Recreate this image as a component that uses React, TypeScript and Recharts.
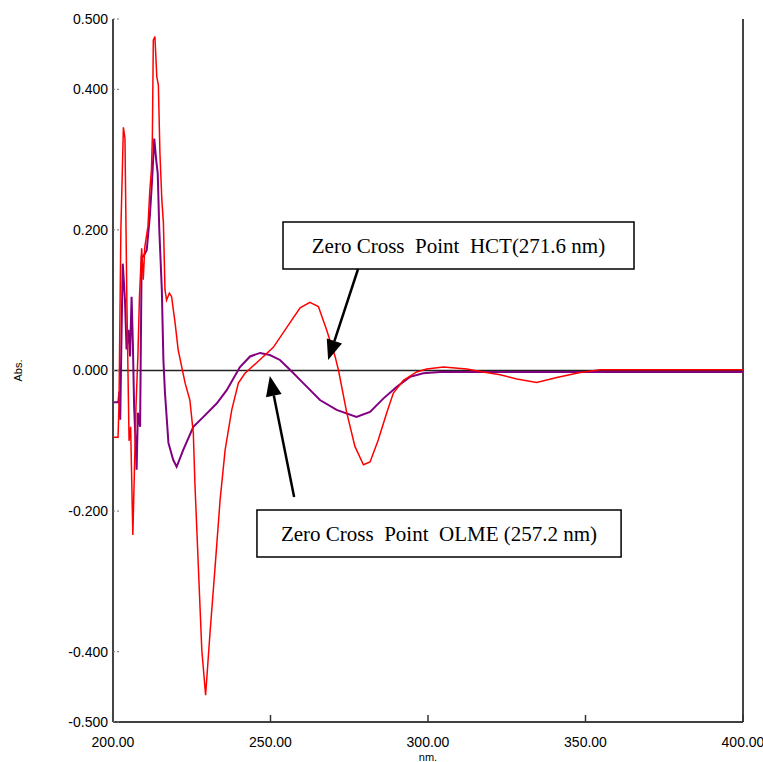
import { LineChart, Line, XAxis, YAxis, ReferenceLine, ReferenceArea } from 'recharts';

// HCT derivative spectrum (red)
const hctWavelength = [
  200, 201.6, 201.9, 202.5, 203.3, 203.8, 204.4, 205.1, 205.6, 206.3, 207.3, 207.9, 208.4, 209.1,
  209.6, 210.1, 211.1, 211.7, 212.2, 212.5, 212.8, 213.3, 213.9, 214.4, 214.9, 215.5, 216.0, 216.5,
  217.0, 217.9, 218.6, 219.7, 220.7, 222.9, 224.4, 225.5, 226.0, 227.1, 228.2, 229.4, 230.8, 232.4,
  234.0, 235.6, 237.7, 239.8, 241.9, 245.6, 250.9, 256.2, 259.4, 262.5, 265.2, 267.8, 270.5, 271.6,
  274.2, 276.8, 279.5, 281.6, 284.2, 286.9, 289.0, 292.2, 296.4, 299.6, 304.9, 312.3, 317.5, 322.9,
  328.2, 334.5, 340.9, 348.3, 354.6, 400,
];
const hctAbs = [
  -0.095, -0.095, -0.05, 0.2, 0.346, 0.33, 0.1, -0.1, -0.08, -0.234, -0.05, 0.02, 0.105, 0.174,
  0.129, 0.176, 0.205, 0.257, 0.285, 0.333, 0.47, 0.475, 0.418, 0.406, 0.309, 0.243, 0.21, 0.115,
  0.1, 0.11, 0.105, 0.068, 0.029, -0.018, -0.042, -0.089, -0.16, -0.28, -0.398, -0.462, -0.373, -0.28,
  -0.184, -0.113, -0.056, -0.018, -0.004, 0.011, 0.033, 0.068, 0.089, 0.097, 0.091, 0.058, 0.02, 0,
  -0.06, -0.108, -0.134, -0.13, -0.099, -0.06, -0.032, -0.014, -0.002, 0.002, 0.005, 0.002, -0.002, -0.006,
  -0.012, -0.017, -0.01, -0.003, 0.001, 0.001,
];

// OLME derivative spectrum (purple)
const olmeWavelength = [
  200, 201.7, 202.0, 202.3, 202.7, 203.1, 203.8, 204.3, 204.9, 205.4, 205.9, 206.3, 206.7, 207.5,
  207.9, 208.6, 209.1, 209.6, 210.7, 211.7, 212.4, 213.1, 213.7, 214.2, 214.7, 215.5, 216.0, 216.5,
  217.6, 219.1, 220.2, 222.3, 225.5, 228.7, 232.9, 236.1, 240.3, 243.5, 246.7, 249.8, 253.0, 256.2,
  260.4, 265.7, 271.0, 277.3, 281.6, 285.8, 290.1, 294.3, 298.5, 303.8, 400,
];
const olmeAbs = [
  -0.045, -0.045, -0.03, -0.07, 0.05, 0.152, 0.1, 0.03, 0.058, 0.02, 0.105, 0.04, -0.05, -0.141,
  -0.06, -0.08, 0.162, 0.162, 0.171, 0.22, 0.27, 0.33, 0.3, 0.28, 0.2, 0.115, 0.015, -0.032,
  -0.103, -0.127, -0.137, -0.113, -0.08, -0.066, -0.047, -0.028, 0.005, 0.02, 0.025, 0.022, 0.015, 0.001,
  -0.018, -0.042, -0.056, -0.066, -0.059, -0.04, -0.023, -0.009, -0.004, -0.002, -0.002,
];

const xTicks = [200, 250, 300, 350, 400];
const yTicks = [-0.5, -0.4, -0.2, 0, 0.2, 0.4, 0.5];

const hctNote = 'Zero Cross\u00A0 Point\u00A0 HCT(271.6 nm)';
const olmeNote = 'Zero Cross\u00A0 Point\u00A0 OLME (257.2 nm)';

const hctData = hctWavelength.map((x, i) => ({ x, v: hctAbs[i] }));
const olmeData = olmeWavelength.map((x, i) => ({ x, v: olmeAbs[i] }));

const sans = '"Liberation Sans", Arial, sans-serif';
const serif = '"Liberation Serif", "Times New Roman", serif';

function Arrow(props: any) {
  const { x1, y1, x2, y2 } = props;
  const dx = x2 - x1;
  const dy = y2 - y1;
  const len = Math.sqrt(dx * dx + dy * dy);
  const ux = dx / len;
  const uy = dy / len;
  const headLen = 20;
  const headW = 8;
  const bx = x2 - ux * headLen;
  const by = y2 - uy * headLen;
  return (
    <g>
      <line x1={x1} y1={y1} x2={bx} y2={by} stroke="#000" strokeWidth={2.5} />
      <polygon
        points={`${x2},${y2} ${bx - uy * headW},${by + ux * headW} ${bx + uy * headW},${by - ux * headW}`}
        fill="#000"
      />
    </g>
  );
}

export default function App() {
  return (
    <div style={{ position: 'absolute', left: 0, top: 0, background: '#fff' }}>
      <LineChart width={763} height={762} margin={{ top: 19, right: 20, left: 0, bottom: 0 }}>
        <XAxis
          xAxisId={0}
          dataKey="x"
          type="number"
          domain={[200, 400]}
          ticks={xTicks}
          allowDataOverflow
          height={40}
          tickFormatter={(v: number) => v.toFixed(2)}
          tickSize={-7}
          tickMargin={22}
          tick={{ fill: '#000', fontSize: 14, fontFamily: sans }}
          axisLine={{ stroke: '#000', strokeWidth: 1.5 }}
          tickLine={{ stroke: '#333', strokeWidth: 1.5 }}
          label={{ value: 'nm.', position: 'insideBottom', offset: 1, fill: '#000', fontSize: 11, fontFamily: sans }}
        />
        <XAxis
          xAxisId="top"
          dataKey="x"
          type="number"
          orientation="top"
          domain={[200, 400]}
          ticks={xTicks}
          height={0}
          tickFormatter={() => ''}
          tickSize={-7}
          axisLine={{ stroke: '#000', strokeWidth: 1.5 }}
          tickLine={{ stroke: '#444', strokeWidth: 1.5 }}
        />
        <YAxis
          type="number"
          domain={[-0.5, 0.5]}
          ticks={yTicks}
          allowDataOverflow
          width={113}
          tickFormatter={(v: number) => v.toFixed(3)}
          tickSize={-6}
          tickMargin={11}
          tick={{ fill: '#000', fontSize: 14, fontFamily: sans }}
          axisLine={{ stroke: '#444', strokeWidth: 2 }}
          tickLine={{ stroke: '#777', strokeWidth: 1, strokeDasharray: '2 2' }}
          label={{
            value: 'Abs.',
            angle: -90,
            position: 'insideLeft',
            offset: 18,
            fill: '#000',
            fontSize: 11,
            fontFamily: sans,
            style: { textAnchor: 'middle' },
          }}
        />
        <ReferenceLine x={400} stroke="#444" strokeWidth={2} />
        <ReferenceLine y={0} stroke="#222" strokeWidth={1.5} />
        <Line
          data={olmeData}
          dataKey="v"
          type="linear"
          stroke="#800080"
          strokeWidth={2}
          dot={false}
          isAnimationActive={false}
        />
        <Line
          data={hctData}
          dataKey="v"
          type="linear"
          stroke="#ff0000"
          strokeWidth={1.5}
          dot={false}
          isAnimationActive={false}
        />
        <ReferenceArea
          x1={253.97}
          x2={365.4}
          y1={0.1444}
          y2={0.2112}
          fill="#fff"
          fillOpacity={1}
          stroke="#000"
          strokeWidth={1.5}
          label={{ value: hctNote, position: 'center', fill: '#000', fontSize: 21, fontFamily: serif }}
        />
        <ReferenceArea
          x1={245.7}
          x2={361.3}
          y1={-0.2653}
          y2={-0.1984}
          fill="#fff"
          fillOpacity={1}
          stroke="#000"
          strokeWidth={1.5}
          label={{ value: olmeNote, position: 'center', fill: '#000', fontSize: 21, fontFamily: serif }}
        />
        <ReferenceLine
          segment={[{ x: 277.8, y: 0.1444 }, { x: 268.3, y: 0.0149 }]}
          shape={(p: any) => <Arrow {...p} />}
        />
        <ReferenceLine
          segment={[{ x: 257.5, y: -0.18 }, { x: 249.8, y: -0.0078 }]}
          shape={(p: any) => <Arrow {...p} />}
        />
      </LineChart>
    </div>
  );
}
